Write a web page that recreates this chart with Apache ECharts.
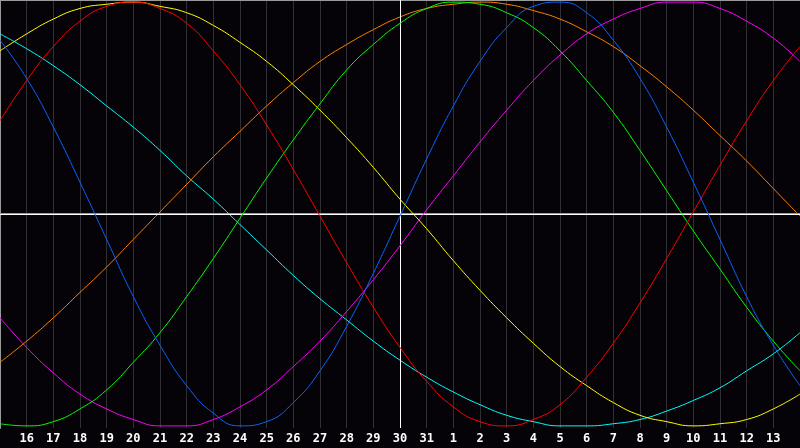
<!DOCTYPE html>
<html><head><meta charset="utf-8">
<script src="https://cdn.jsdelivr.net/npm/echarts@6/dist/echarts.min.js"></script>
<style>html,body{margin:0;padding:0;background:#050307;}#c{width:800px;height:448px;}</style>
</head><body><div id="c"></div>
<script>
const dayLabels = [15,16,17,18,19,20,21,22,23,24,25,26,27,28,29,30,31,1,2,3,4,5,6,7,8,9,10,11,12,13,14];
const physical = [0.82,0.64,0.41,0.15,-0.12,-0.39,-0.62,-0.81,-0.94,-1.00,-0.98,-0.89,-0.74,-0.53,-0.28,-0.01,0.26,0.51,0.72,0.88,0.98,1.00,0.95,0.82,0.64,0.41,0.15,-0.12,-0.39,-0.62,-0.81];
const emotional = [0.44,0.63,0.79,0.91,0.98,1.00,0.97,0.90,0.77,0.61,0.42,0.21,-0.01,-0.23,-0.44,-0.63,-0.79,-0.91,-0.98,-1.00,-0.97,-0.90,-0.77,-0.61,-0.42,-0.21,0.01,0.23,0.44,0.63,0.79];
const intellectual = [-0.99,-1.00,-0.98,-0.92,-0.83,-0.70,-0.56,-0.39,-0.21,-0.02,0.17,0.35,0.52,0.68,0.80,0.90,0.97,1.00,0.99,0.95,0.88,0.77,0.63,0.48,0.30,0.11,-0.08,-0.26,-0.44,-0.60,-0.74];
const aesthetic = [0.77,0.85,0.92,0.97,0.99,1.00,0.98,0.95,0.89,0.81,0.72,0.61,0.49,0.36,0.22,0.07,-0.07,-0.22,-0.36,-0.49,-0.61,-0.72,-0.81,-0.89,-0.95,-0.98,-1.00,-0.99,-0.97,-0.92,-0.85];
const awareness = [-0.70,-0.60,-0.49,-0.37,-0.25,-0.12,0.01,0.14,0.27,0.39,0.51,0.62,0.72,0.80,0.87,0.93,0.97,0.99,1.00,0.99,0.96,0.92,0.86,0.79,0.70,0.60,0.49,0.37,0.25,0.12,-0.01];
const intuitive = [-0.49,-0.63,-0.75,-0.85,-0.92,-0.97,-1.00,-1.00,-0.97,-0.91,-0.83,-0.72,-0.60,-0.46,-0.31,-0.15,0.02,0.18,0.34,0.49,0.63,0.75,0.85,0.92,0.97,1.00,1.00,0.97,0.91,0.83,0.72];
const spiritual = [0.85,0.78,0.70,0.61,0.51,0.41,0.30,0.18,0.07,-0.05,-0.17,-0.29,-0.40,-0.50,-0.60,-0.69,-0.77,-0.84,-0.90,-0.95,-0.98,-1.00,-1.00,-0.99,-0.97,-0.93,-0.88,-0.82,-0.74,-0.66,-0.56];

const seriesDefs = [
  ['Awareness', awareness, '#ff8000'],
  ['Spiritual', spiritual, '#00ffff'],
  ['Intuitive', intuitive, '#ff00ff'],
  ['Aesthetic', aesthetic, '#ffff00'],
  ['Intellectual', intellectual, '#00ff00'],
  ['Emotional', emotional, '#ff0000'],
  ['Physical', physical, '#0a64ff']
];
const series = seriesDefs.map(([name, vals, color], i) => ({
  name, type: 'line', smooth: 0.5, symbol: 'none', silent: true,
  data: vals.map((v, k) => [k, v]),
  lineStyle: { color, width: 1 },
  z: 3 + i
}));
series[0].markLine = {
  silent: true, symbol: 'none', label: { show: false },
  lineStyle: { color: '#ffffff', width: 1, type: 'solid' },
  data: [{ yAxis: 0 }, { xAxis: 15 }]
};

const chart = echarts.init(document.getElementById('c'), null, { renderer: 'canvas' });
chart.setOption({
  backgroundColor: '#050307',
  animation: false,
  grid: { left: 0, right: 0, top: 0, bottom: 20 },
  xAxis: [{
    type: 'value', min: 0, max: 30, interval: 1,
    axisLine: { show: true, lineStyle: { color: '#9a9a9a', width: 2 } },
    axisTick: { show: false },
    splitLine: { show: true, lineStyle: { color: '#303034', width: 1 } },
    axisLabel: {
      show: true, showMinLabel: false, showMaxLabel: false, margin: 5,
      color: '#ffffff', fontFamily: 'DejaVu Sans Mono', fontWeight: 'bold', fontSize: 12,
      formatter: v => String(dayLabels[v])
    }
  }, {
    type: 'value', min: 0, max: 30, position: 'top',
    axisLine: { show: true, lineStyle: { color: '#9a9a9a', width: 2 } },
    axisTick: { show: false }, axisLabel: { show: false }, splitLine: { show: false }
  }],
  yAxis: {
    type: 'value', min: -1.01, max: 1.01,
    axisLine: { show: true, lineStyle: { color: '#9a9a9a', width: 2 } },
    axisTick: { show: false }, axisLabel: { show: false }, splitLine: { show: false }
  },
  series
});
</script></body></html>
